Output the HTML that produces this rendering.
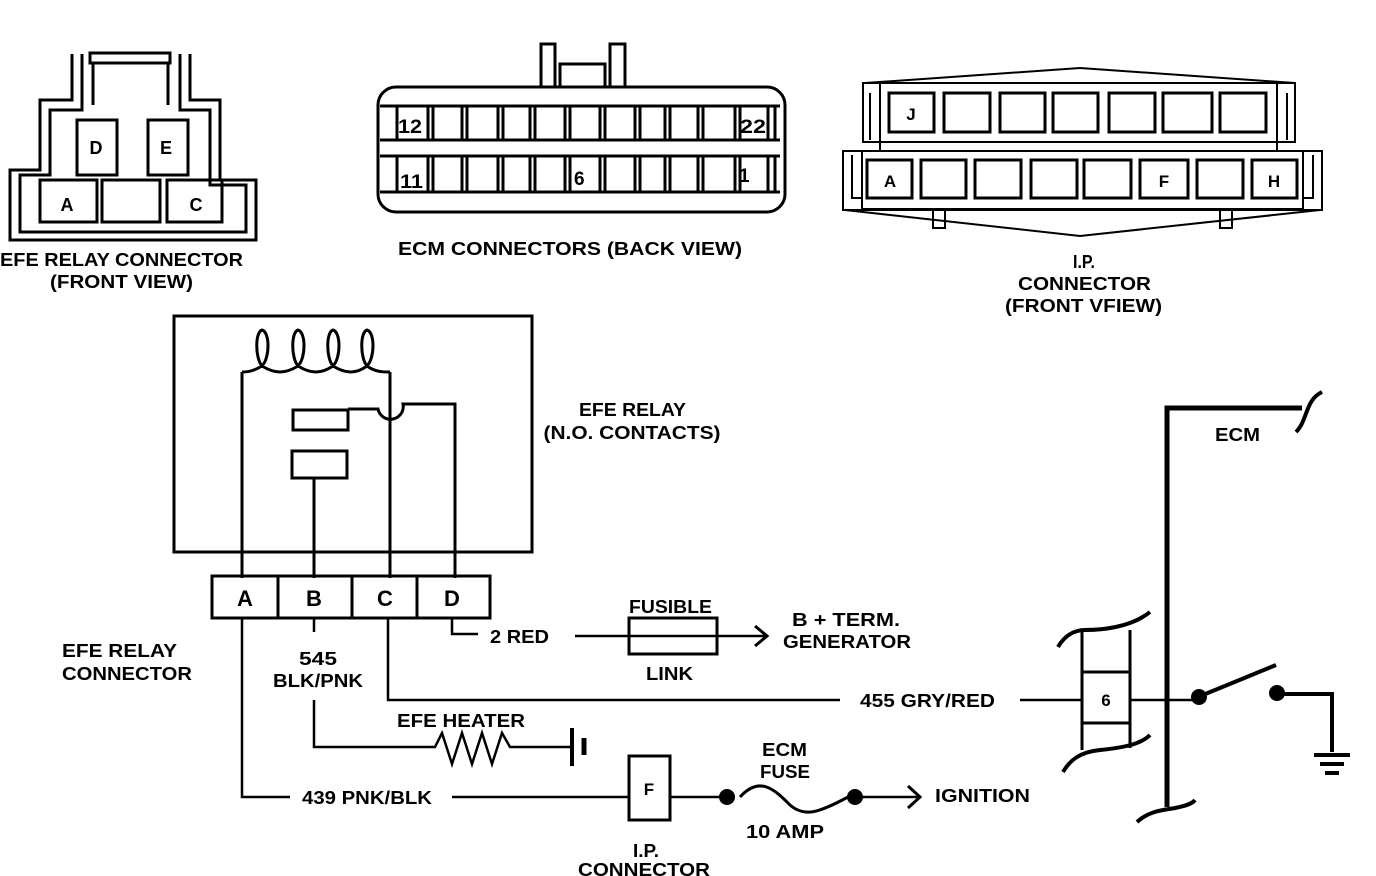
<!DOCTYPE html>
<html><head><meta charset="utf-8"><style>
html,body{margin:0;padding:0;background:#fff;}
svg{display:block;}
text{font-family:"Liberation Sans",sans-serif;font-weight:bold;fill:#000;}
</style></head><body>
<svg width="1376" height="876" viewBox="0 0 1376 876" xmlns="http://www.w3.org/2000/svg">
<g fill="none" stroke="#000" stroke-width="3">
<!-- EFE relay connector front view -->
<rect x="90" y="53" width="80" height="10"/>
<path d="M72 54 V100 H40 V170 H10 V240 H256 V180 H220 V100 H190 V54"/>
<path d="M82 54 V110 H50 V175 H20 V232 H246 V185 H210 V110 H180 V54"/>
<path d="M93 64 V105 M168 64 V105"/>
<rect x="77" y="120" width="40" height="55"/>
<rect x="148" y="120" width="40" height="55"/>
<rect x="40" y="180" width="57" height="42"/>
<rect x="102" y="180" width="58" height="42"/>
<rect x="167" y="180" width="55" height="42"/>
<!-- ECM connector -->
<path d="M541 87 V44 H555 V87 M610 87 V44 H625 V87 M560 87 V64 H605 V87"/>
<rect x="378" y="87" width="407" height="125" rx="18"/>
<path d="M380 106 H780 M380 140 H780 M380 156 H780 M380 192 H780"/>
<g stroke-width="3">
<path d="M397 106V140 M428 106V140 M433 106V140 M462 106V140 M467 106V140 M498 106V140 M503 106V140 M530 106V140 M535 106V140 M565 106V140 M570 106V140 M600 106V140 M605 106V140 M635 106V140 M640 106V140 M665 106V140 M670 106V140 M698 106V140 M703 106V140 M735 106V140 M740 106V140 M768 106V140 M775 106V140"/>
<path d="M397 156V192 M428 156V192 M433 156V192 M462 156V192 M467 156V192 M498 156V192 M503 156V192 M530 156V192 M535 156V192 M565 156V192 M570 156V192 M600 156V192 M605 156V192 M635 156V192 M640 156V192 M665 156V192 M670 156V192 M698 156V192 M703 156V192 M735 156V192 M740 156V192 M768 156V192 M775 156V192"/>
</g>
<!-- IP connector -->
<path d="M865 83 L1080 68 L1295 83" stroke-width="2"/>
<path d="M845 210 L1080 236 L1320 210" stroke-width="2"/>
<rect x="863" y="83" width="432" height="59" stroke-width="2"/>
<path d="M880 83 V150 M1277 83 V150" stroke-width="2"/>
<path d="M870 93 V140 M1287 93 V140" stroke-width="2"/>
<rect x="889" y="93" width="45" height="39"/><rect x="944" y="93" width="46" height="39"/><rect x="1000" y="93" width="45" height="39"/><rect x="1053" y="93" width="45" height="39"/><rect x="1109" y="93" width="46" height="39"/><rect x="1163" y="93" width="49" height="39"/><rect x="1220" y="93" width="46" height="39"/>
<rect x="862" y="151" width="441" height="58" stroke-width="2"/>
<path d="M862 151 H843 V210 H1322 V151 H1303" stroke-width="2"/>
<path d="M852 155 V198 H862 M1313 155 V198 H1303" stroke-width="2"/>
<rect x="867" y="160" width="45" height="38"/><rect x="921" y="160" width="45" height="38"/><rect x="975" y="160" width="46" height="38"/><rect x="1031" y="160" width="46" height="38"/><rect x="1084" y="160" width="47" height="38"/><rect x="1140" y="160" width="48" height="38"/><rect x="1197" y="160" width="46" height="38"/><rect x="1252" y="160" width="45" height="38"/>
<rect x="933" y="210" width="12" height="18" stroke-width="2"/><rect x="1220" y="210" width="12" height="18" stroke-width="2"/>
<!-- relay box -->
<rect x="174" y="316" width="358" height="236"/>
<path d="M242 372 C250 372 255 370 262 366 C255 358 255 332 262 330 C270 332 270 358 262 366 C275 374 285 374 298 366 C291 358 291 332 298 330 C306 332 306 358 298 366 C311 374 321 374 333 366 C326 358 326 332 333 330 C341 332 341 358 333 366 C346 374 356 374 367 366 C360 358 360 332 367 330 C375 332 375 358 367 366 C375 372 383 372 390 372"/>
<path d="M242 372 V578 M390 372 V578 M314 478 V578"/>
<rect x="293" y="410" width="55" height="20"/>
<rect x="292" y="451" width="55" height="27"/>
<path d="M348 409 H378 A12 12 0 0 0 403 404 H455 V578"/>
<rect x="212" y="576" width="278" height="42"/>
<path d="M278 576 V618 M352 576 V618 M417 576 V618"/>
<!-- wires -->
<g stroke-width="2.5">
<path d="M242 618 V797 H290 M452 797 H629 M670 797 H720 M862 797 H918"/>
<path d="M314 618 V632 M314 700 V747 H435 L442 733 L452 764 L462 733 L472 764 L482 733 L492 764 L502 733 L510 747 H572"/>
<path d="M388 618 V700 H840 M1020 700 H1082 M1130 700 H1197"/>
<path d="M452 618 V634 H478 M575 636 H765"/>
<path d="M755 626 L767 636 L755 646 M908 786 L920 797 L908 808" stroke-width="3"/>
<path d="M740 797 C760 775 775 790 790 805 C805 818 820 812 848 797" stroke-width="3"/>
</g>
<path d="M572 728 V766" stroke-width="4"/><path d="M584 738 V755" stroke-width="5"/>
<rect x="629" y="618" width="88" height="36" stroke-width="3"/>
<rect x="629" y="756" width="41" height="64" stroke-width="3"/>
<!-- ECM -->
<path d="M1167 807 V408 H1302" stroke-width="5"/>
<path d="M1296 432 C1308 420 1305 400 1322 392" stroke-width="4"/>
<path d="M1137 822 C1150 810 1165 810 1175 808 C1185 806 1192 804 1195 800" stroke-width="4"/>
<path d="M1082 632 V750 M1130 630 V748 M1082 672 H1130 M1082 723 H1130"/>
<path d="M1058 647 C1065 635 1075 630 1085 630 C1100 630 1130 628 1150 612" stroke-width="4"/>
<path d="M1063 772 C1070 760 1080 752 1100 750 C1120 748 1140 745 1150 735" stroke-width="4"/>
<path d="M1198 697 L1276 665" stroke-width="4"/>
<path d="M1277 694 H1332 V752 M1314 755 H1350 M1320 764 H1344 M1325 773 H1339" stroke-width="4"/>
</g>
<g fill="#000">
<circle cx="1199" cy="697" r="8"/><circle cx="1277" cy="693" r="8"/>
<circle cx="727" cy="797" r="8"/><circle cx="855" cy="797" r="8"/>
</g>
<g font-size="18">
<text x="67" y="211" text-anchor="middle">A</text>
<text x="196" y="211" text-anchor="middle">C</text>
<text x="96" y="154" text-anchor="middle">D</text>
<text x="166" y="154" text-anchor="middle">E</text>
<text x="0" y="266" textLength="243" lengthAdjust="spacingAndGlyphs">EFE RELAY CONNECTOR</text>
<text x="50" y="288" textLength="143" lengthAdjust="spacingAndGlyphs">(FRONT VIEW)</text>
<text x="398" y="255" textLength="344" lengthAdjust="spacingAndGlyphs">ECM CONNECTORS (BACK VIEW)</text>
<text x="1073" y="268" textLength="22" lengthAdjust="spacingAndGlyphs">I.P.</text>
<text x="1018" y="290" textLength="133" lengthAdjust="spacingAndGlyphs">CONNECTOR</text>
<text x="1005" y="312" textLength="157" lengthAdjust="spacingAndGlyphs">(FRONT VFIEW)</text>
</g>
<g font-size="19">
<text x="398" y="133" textLength="24" lengthAdjust="spacingAndGlyphs">12</text><text x="740" y="133" textLength="26" lengthAdjust="spacingAndGlyphs">22</text>
<text x="400" y="188" textLength="23" lengthAdjust="spacingAndGlyphs">11</text><text x="574" y="185">6</text><text x="739" y="182">1</text>
</g>
<g font-size="17">
<text x="911" y="120" text-anchor="middle">J</text>
<text x="890" y="187" text-anchor="middle">A</text>
<text x="1164" y="187" text-anchor="middle">F</text>
<text x="1274" y="187" text-anchor="middle">H</text>
</g>
<g font-size="22">
<text x="245" y="606" text-anchor="middle">A</text>
<text x="314" y="606" text-anchor="middle">B</text>
<text x="385" y="606" text-anchor="middle">C</text>
<text x="452" y="606" text-anchor="middle">D</text>
</g>
<g font-size="18">
<text x="579" y="416" textLength="107" lengthAdjust="spacingAndGlyphs">EFE RELAY</text>
<text x="632" y="439" text-anchor="middle" textLength="177" lengthAdjust="spacingAndGlyphs">(N.O. CONTACTS)</text>
<text x="62" y="657" textLength="115" lengthAdjust="spacingAndGlyphs">EFE RELAY</text>
<text x="62" y="680" textLength="130" lengthAdjust="spacingAndGlyphs">CONNECTOR</text>
<text x="490" y="643" textLength="59" lengthAdjust="spacingAndGlyphs">2 RED</text>
<text x="629" y="613" textLength="83" lengthAdjust="spacingAndGlyphs">FUSIBLE</text>
<text x="646" y="680" textLength="47" lengthAdjust="spacingAndGlyphs">LINK</text>
<text x="792" y="626" textLength="108" lengthAdjust="spacingAndGlyphs">B + TERM.</text>
<text x="783" y="648" textLength="128" lengthAdjust="spacingAndGlyphs">GENERATOR</text>
<text x="299" y="665" textLength="38" lengthAdjust="spacingAndGlyphs">545</text>
<text x="273" y="687" textLength="90" lengthAdjust="spacingAndGlyphs">BLK/PNK</text>
<text x="860" y="707" textLength="135" lengthAdjust="spacingAndGlyphs">455 GRY/RED</text>
<text x="397" y="727" textLength="128" lengthAdjust="spacingAndGlyphs">EFE HEATER</text>
<text x="302" y="804" textLength="130" lengthAdjust="spacingAndGlyphs">439 PNK/BLK</text>
<text x="762" y="756" textLength="45" lengthAdjust="spacingAndGlyphs">ECM</text>
<text x="760" y="778" textLength="50" lengthAdjust="spacingAndGlyphs">FUSE</text>
<text x="746" y="838" textLength="78" lengthAdjust="spacingAndGlyphs">10 AMP</text>
<text x="935" y="802" textLength="95" lengthAdjust="spacingAndGlyphs">IGNITION</text>
<text x="633" y="857" textLength="26" lengthAdjust="spacingAndGlyphs">I.P.</text>
<text x="578" y="876" textLength="132" lengthAdjust="spacingAndGlyphs">CONNECTOR</text>
<text x="1215" y="441" textLength="45" lengthAdjust="spacingAndGlyphs">ECM</text>
<text x="1106" y="706" text-anchor="middle" font-size="17">6</text>
<text x="649" y="795" text-anchor="middle" font-size="17">F</text>
</g>
</svg>
</body></html>
